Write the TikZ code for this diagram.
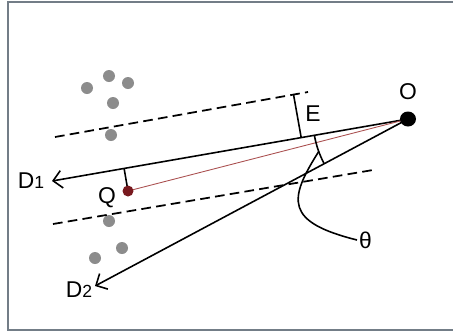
\documentclass[tikz,border=0pt]{standalone}
\usepackage{fontspec}
\setmainfont{Liberation Sans}
\usetikzlibrary{arrows.meta,calc}
\definecolor{framecol}{RGB}{115,125,135}
\definecolor{dotgray}{RGB}{140,140,140}
\definecolor{qred}{RGB}{120,25,30}
\definecolor{qline}{RGB}{170,80,80}

\begin{document}
\begin{tikzpicture}[x=0.02cm,y=-0.02cm,
    ray/.style={line width=0.9pt,-{Straight Barb[length=5pt,width=10pt]}},
    bound/.style={line width=1pt,dash pattern=on 5.5pt off 3pt},
    lbl/.style={font=\fontsize{13}{15}\selectfont,inner sep=1pt}]
  \useasboundingbox (0,0) rectangle (453,332);
  \draw[framecol,line width=1pt] (460,2) -- (8,2) -- (8,330) -- (460,330);
  % points
  \coordinate (O) at (408,119);
  \coordinate (Q) at (128,191);
  \coordinate (D1) at (52,181);
  \coordinate (D2) at (95,286);
  \coordinate (U1) at (55,137);
  \coordinate (U2) at (308,92);
  \coordinate (L1) at (53,224);
  \coordinate (L2) at (373,170);
  \coordinate (Ef) at ($(O)!0.3!(D1)$);
  \coordinate (Et) at ($(U1)!(Ef)!(U2)$);
  \coordinate (Qf) at ($(O)!(Q)!(D1)$);
  % samples
  \foreach \p in {(87,88),(109,76),(128,83),(113,103),(111,135),(109,221),(122,248),(95,258)}
    \fill[dotgray] \p circle (6);
  % bounds
  \draw[bound] (U1) -- (U2);
  \draw[bound] (L1) -- (L2);
  % rays
  \draw[ray] (O) -- (D1);
  \draw[ray] (O) -- (D2);
  \draw[qline,line width=0.5pt] (Q) -- (O);
  \draw[line width=0.9pt] (Ef) -- (Et);
  \draw[line width=0.9pt] (Qf) -- (Q);
  % angle
  \draw[line width=0.9pt] ([shift={(170.1:95)}]O) arc[start angle=170.1,end angle=151.9,radius=95];
  \coordinate (P) at ([shift={(160:95)}]O);
  \fill (O) ellipse (8 and 7.5);
  \fill[qred] (Q) circle (5.5);
  % labels
  \node[lbl] (lO) at (408,92) {O};
  \node[lbl] (lE) at (313,114) {E};
  \node[lbl] (lQ) at (107,198) {Q};
  \node[lbl] (lD1) at (31,181) {D{\fontsize{10}{12}\selectfont 1}};
  \node[lbl] (lD2) at (79,290) {D{\fontsize{10}{12}\selectfont 2}};
  \node[lbl,anchor=west] (th) at (357,240) {θ};
  \draw[line width=0.9pt] (P) .. controls (288,200) and (285,222) .. (th.west);
\end{tikzpicture}
\end{document}
